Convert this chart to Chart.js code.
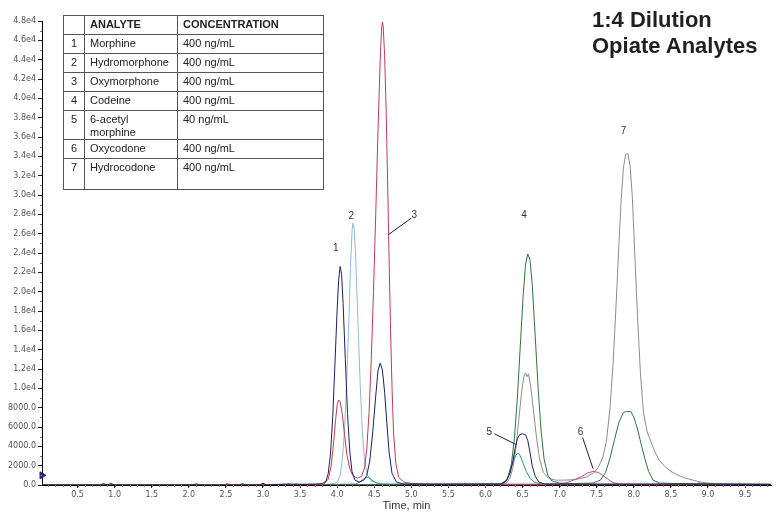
<!DOCTYPE html>
<html>
<head>
<meta charset="utf-8">
<script src="https://cdn.jsdelivr.net/npm/chart.js@4.4.1/dist/chart.umd.min.js"></script>
<style>
  body { margin: 0; background: #fff; }
  #wrap { position: relative; width: 776px; height: 513px; }
  #title {
    position: absolute; left: 592px; top: 7px;
    font: bold 22px "Liberation Sans", Arial, sans-serif;
    line-height: 26px; color: #231f20;
  }
  #analytes {
    position: absolute; left: 63px; top: 15px; width: 261px;
    border-collapse: collapse;
    font: 11px "Liberation Sans", Arial, sans-serif; color: #222;
  }
  #analytes td, #analytes th {
    border: 1px solid #555; padding: 2px 5px 0 5px;
    vertical-align: top; text-align: left; line-height: 13px;
  }
  #analytes th { font-weight: bold; height: 16px; }
  #analytes td.n { text-align: center; padding: 2px 0 0 0; width: 20px; }
</style>
</head>
<body>
<div id="wrap">
  <canvas id="chromChart" width="776" height="513"></canvas>
  <div id="title">1:4 Dilution<br>Opiate Analytes</div>
  <table id="analytes">
    <tr><th class="n"></th><th style="width:82px">ANALYTE</th><th>CONCENTRATION</th></tr>
  </table>
</div>
<script>
// table contents
const analyteNames = ["Morphine", "Hydromorphone", "Oxymorphone", "Codeine", "6-acetyl morphine", "Oxycodone", "Hydrocodone"];
const analyteConc = ["400 ng/mL", "400 ng/mL", "400 ng/mL", "400 ng/mL", "40 ng/mL", "400 ng/mL", "400 ng/mL"];
const rowHeights = [16, 16, 16, 16, 26, 16, 28];

// axis ticks
const xTickValues = [0.5, 1.0, 1.5, 2.0, 2.5, 3.0, 3.5, 4.0, 4.5, 5.0, 5.5, 6.0, 6.5, 7.0, 7.5, 8.0, 8.5, 9.0, 9.5];

// traces, [time (min), intensity]
const navyTrace = [[0.02,0],[0.8,0],[0.85,150],[0.9,0],[0.95,150],[1.0,0],[2.05,0],[2.1,120],[2.15,0],[2.68,0],[2.72,150],[2.76,0],[2.95,0],[3.0,180],[3.05,0],[3.3,100],[3.5,80],[3.7,100],[3.8,150],[3.85,400],[3.88,1200],[3.91,3200],[3.94,7000],[3.97,12500],[4.00,18200],[4.02,21200],[4.04,22600],[4.06,21800],[4.08,18800],[4.11,13000],[4.14,7400],[4.17,3500],[4.20,1400],[4.24,500],[4.30,300],[4.36,500],[4.40,1000],[4.44,2500],[4.48,5500],[4.52,9200],[4.55,11800],[4.58,12600],[4.61,11900],[4.64,9600],[4.67,6400],[4.70,3400],[4.74,1200],[4.80,300],[4.90,100],[5.5,80],[6.20,100],[6.28,400],[6.33,1200],[6.37,2500],[6.40,3800],[6.43,4800],[6.46,5200],[6.50,5300],[6.54,5200],[6.57,4600],[6.60,3400],[6.63,2000],[6.67,900],[6.72,300],[6.80,100],[7.5,80],[8.5,100],[9.85,60]];
const redTrace = [[0.02,0],[2.48,0],[2.52,150],[2.56,0],[3.75,50],[3.82,100],[3.88,600],[3.92,2000],[3.95,4200],[3.98,6800],[4.00,8300],[4.02,8800],[4.04,8600],[4.07,7300],[4.10,5200],[4.13,3200],[4.17,1700],[4.21,1000],[4.27,700],[4.33,900],[4.37,1800],[4.40,3800],[4.43,7500],[4.46,13000],[4.49,20000],[4.52,28000],[4.55,36500],[4.58,44000],[4.60,47300],[4.61,47900],[4.62,47500],[4.64,44500],[4.66,39000],[4.68,31500],[4.70,23500],[4.72,16000],[4.74,10000],[4.76,5500],[4.79,2300],[4.83,800],[4.90,300],[5.0,150],[5.3,80],[9.85,50]];
const greenTrace = [[0.02,0],[3.4,0],[3.45,100],[3.5,0],[6.2,100],[6.25,200],[6.30,700],[6.35,2200],[6.39,4800],[6.43,9000],[6.47,14500],[6.51,19800],[6.54,22800],[6.57,23900],[6.60,23300],[6.63,20800],[6.67,15500],[6.71,10000],[6.75,5600],[6.79,2700],[6.84,1000],[6.90,400],[7.0,200],[7.2,150],[7.45,200],[7.55,500],[7.62,1300],[7.68,2800],[7.74,4700],[7.80,6500],[7.86,7500],[7.90,7600],[7.96,7600],[8.00,7000],[8.05,5800],[8.10,4200],[8.15,2700],[8.20,1400],[8.26,500],[8.35,200],[8.6,150],[9.85,80]];
const magentaTrace = [[0.02,0],[6.9,50],[7.00,80],[7.10,250],[7.20,550],[7.30,900],[7.38,1250],[7.45,1400],[7.52,1300],[7.58,1000],[7.65,600],[7.72,250],[7.80,100],[8.0,60],[8.85,60],[8.88,250],[8.92,60],[9.85,40]];
const tealTrace = [[0.02,0],[3.3,0],[3.35,120],[3.4,0],[4.25,100],[4.32,400],[4.38,750],[4.42,800],[4.47,500],[4.53,200],[4.6,80],[6.15,80],[6.22,150],[6.28,500],[6.33,1300],[6.37,2300],[6.41,3100],[6.44,3300],[6.47,3000],[6.51,2200],[6.55,1400],[6.60,700],[6.66,300],[6.75,100],[9.85,50]];
const lightBlueTrace = [[0.02,0],[1.5,0],[3.9,50],[4.00,300],[4.04,1000],[4.07,2600],[4.10,5800],[4.13,11000],[4.16,17500],[4.18,22500],[4.20,26200],[4.21,27100],[4.23,26500],[4.25,23500],[4.28,17000],[4.31,10500],[4.34,5500],[4.37,2500],[4.41,1000],[4.46,400],[4.55,200],[4.7,100],[7.0,80],[9.85,50]];
const grayTrace = [[0.02,0],[3.6,0],[6.2,100],[6.28,200],[6.33,700],[6.37,1800],[6.41,3800],[6.45,6800],[6.49,9800],[6.52,11300],[6.54,11600],[6.56,11200],[6.58,11500],[6.61,10200],[6.65,7500],[6.69,4800],[6.73,2700],[6.78,1300],[6.85,700],[6.95,500],[7.05,500],[7.2,550],[7.35,800],[7.45,1200],[7.52,1800],[7.58,2800],[7.63,4500],[7.68,8000],[7.72,12500],[7.76,18500],[7.80,25000],[7.83,29500],[7.86,32800],[7.89,34200],[7.92,34300],[7.95,33000],[7.98,29800],[8.01,24500],[8.05,17500],[8.09,11500],[8.13,7500],[8.18,5500],[8.23,4500],[8.28,3500],[8.34,2600],[8.42,1900],[8.50,1400],[8.60,1000],[8.70,700],[8.80,500],[8.90,300],[9.0,200],[9.2,100],[9.85,60]];
const thresholdMark = [[0.02, 1000]];

// peak numbers and leader lines (data units)
const peakText = ["1", "2", "3", "4", "5", "6", "7"];
const peakTime = [3.98, 4.19, 5.04, 6.52, 6.05, 7.28, 7.86];
const peakValue = [24500, 27800, 27900, 27900, 5500, 5500, 36600];
const leaderLines = [[5.0, 27600, 4.69, 25900], [6.12, 5300, 6.41, 4200], [7.31, 4900, 7.45, 1700]];

// fill the table
const tbl = document.getElementById('analytes');
analyteNames.forEach((name, i) => {
    const tr = document.createElement('tr');
    tr.innerHTML = `<td class="n" style="height:${rowHeights[i]}px">${i + 1}</td><td>${name}</td><td>${analyteConc[i]}</td>`;
    tbl.appendChild(tr);
});

function toXY(trace) {
    return trace.map(p => ({ x: p[0], y: p[1] }));
}

function line(trace, color) {
    return {
        data: toXY(trace),
        borderColor: color,
        borderWidth: 1,
        pointRadius: 0,
        tension: 0,
        fill: false
    };
}

const minorTicks = {
    id: 'minorTicks',
    afterDraw(chart) {
        const ctx = chart.ctx;
        const x = chart.scales.x, y = chart.scales.y;
        ctx.save();
        ctx.strokeStyle = '#777';
        ctx.lineWidth = 1;
        ctx.beginPath();
        for (let i = 1; i < 99; i++) {
            const px = Math.round(x.getPixelForValue(i / 10)) + 0.5;
            ctx.moveTo(px, y.bottom);
            ctx.lineTo(px, y.bottom + 2);
        }
        for (let v = 1000; v < 48000; v += 2000) {
            const py = Math.round(y.getPixelForValue(v)) + 0.5;
            ctx.moveTo(x.left - 2, py);
            ctx.lineTo(x.left, py);
        }
        ctx.stroke();
        ctx.restore();
    }
};

const peakLabels = {
    id: 'peakLabels',
    afterDatasetsDraw(chart) {
        const ctx = chart.ctx;
        const x = chart.scales.x, y = chart.scales.y;
        ctx.save();
        ctx.fillStyle = '#333';
        ctx.font = '10px "Liberation Sans", Arial, sans-serif';
        ctx.textAlign = 'center';
        ctx.textBaseline = 'middle';
        peakText.forEach((t, i) => {
            ctx.fillText(t, x.getPixelForValue(peakTime[i]), y.getPixelForValue(peakValue[i]));
        });
        ctx.strokeStyle = '#222';
        ctx.lineWidth = 1;
        leaderLines.forEach(l => {
            ctx.beginPath();
            ctx.moveTo(x.getPixelForValue(l[0]), y.getPixelForValue(l[1]));
            ctx.lineTo(x.getPixelForValue(l[2]), y.getPixelForValue(l[3]));
            ctx.stroke();
        });
        ctx.restore();
    }
};

const tickFont = { family: 'DejaVu Sans', size: 8 };

new Chart(document.getElementById('chromChart').getContext('2d'), {
    type: 'line',
    data: {
        datasets: [
            {
                data: toXY(thresholdMark),
                showLine: false,
                pointStyle: 'triangle',
                rotation: 90,
                pointRadius: 4,
                backgroundColor: '#22287a',
                borderColor: '#22287a',
                clip: false
            },
            line(navyTrace, '#1c1f5e'),
            line(redTrace, '#c23a55'),
            line(greenTrace, '#2f7340'),
            line(magentaTrace, '#d0408e'),
            line(tealTrace, '#2f8f90'),
            line(lightBlueTrace, '#93b8d8'),
            line(grayTrace, '#8c8c8c')
        ]
    },
    options: {
        responsive: false,
        animation: false,
        devicePixelRatio: 1,
        layout: { padding: { top: 21, left: 0, right: 0, bottom: 0 } },
        plugins: { legend: { display: false }, tooltip: { enabled: false } },
        scales: {
            x: {
                type: 'linear',
                min: 0.02,
                max: 9.85,
                afterFit: s => { s.height = 28; },
                afterBuildTicks: s => { s.ticks = xTickValues.map(v => ({ value: v })); },
                ticks: {
                    font: tickFont,
                    color: '#555',
                    padding: 2,
                    maxRotation: 0,
                    autoSkip: false,
                    callback: v => v.toFixed(1)
                },
                grid: { drawOnChartArea: false, tickLength: 3, color: '#222' },
                border: { color: '#000', width: 1 },
                title: {
                    display: true,
                    text: 'Time, min',
                    font: { family: 'Liberation Sans', size: 11 },
                    color: '#333',
                    padding: 0
                }
            },
            y: {
                min: 0,
                max: 48000,
                afterFit: s => { s.width = 42; },
                ticks: {
                    stepSize: 2000,
                    font: tickFont,
                    color: '#555',
                    padding: 2,
                    callback: v => v >= 10000 ? (v / 10000).toFixed(1) + 'e4' : v.toFixed(1)
                },
                grid: { drawOnChartArea: false, tickLength: 4, color: '#222' },
                border: { color: '#000', width: 1 }
            }
        }
    },
    plugins: [minorTicks, peakLabels]
});
</script>
</body>
</html>
